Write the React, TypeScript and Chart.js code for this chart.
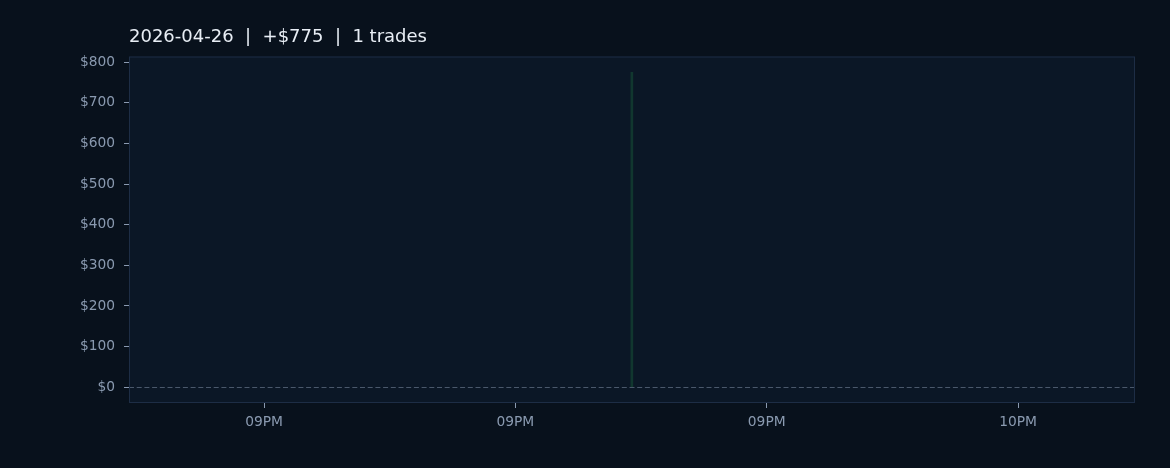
import React, { useEffect, useRef } from "react";
import { Chart, registerables } from "chart.js";

Chart.register(...registerables);

// Data (x in minutes after 21:00)
const tradeTimes: number[] = [36.95];
const tradePnl: number[] = [775];
const xTickValues: number[] = [15, 30, 45, 60];
const xTickLabels: string[] = ["09PM", "09PM", "09PM", "10PM"];
const yTickValues: number[] = [0, 100, 200, 300, 400, 500, 600, 700, 800];
const titleText = "2026-04-26  |  +$775  |  1 trades";

const FONT = "'DejaVu Sans', sans-serif";
const W = 1170;
const H = 468;

const decorPlugin = {
  id: "decor",
  beforeDraw(chart: any) {
    const { ctx, chartArea } = chart;
    ctx.save();
    ctx.fillStyle = "#08111c";
    ctx.fillRect(0, 0, chart.width, chart.height);
    ctx.fillStyle = "#0b1726";
    ctx.fillRect(chartArea.left, chartArea.top, chartArea.right - chartArea.left, chartArea.bottom - chartArea.top);
    // zero line
    const y0 = chart.scales.y.getPixelForValue(0);
    ctx.strokeStyle = "#4a586b";
    ctx.lineWidth = 1;
    ctx.setLineDash([5, 2.7]);
    ctx.beginPath();
    ctx.moveTo(chartArea.left, Math.round(y0) + 0.5);
    ctx.lineTo(chartArea.right, Math.round(y0) + 0.5);
    ctx.stroke();
    ctx.restore();
  },
  afterDraw(chart: any) {
    const { ctx, chartArea } = chart;
    ctx.save();
    ctx.strokeStyle = "#1d2d45";
    ctx.lineWidth = 1;
    ctx.strokeRect(chartArea.left + 0.5, chartArea.top + 0.5, chartArea.right - chartArea.left - 1, chartArea.bottom - chartArea.top - 1);
    ctx.fillStyle = "#e8eef5";
    ctx.font = `18px ${FONT}`;
    ctx.textBaseline = "alphabetic";
    ctx.textAlign = "left";
    ctx.fillText(titleText, chartArea.left, 42);
    ctx.restore();
  },
};

export default function App() {
  const ref = useRef<HTMLCanvasElement | null>(null);
  useEffect(() => {
    document.body.style.margin = "0";
    document.body.style.background = "#08111c";
    const canvas = ref.current!;
    const chart = new Chart(canvas, {
      type: "bar",
      data: {
        datasets: [
          {
            data: tradeTimes.map((t, i) => ({ x: t, y: tradePnl[i] })),
            backgroundColor: "#11372f",
            borderWidth: 0,
            barThickness: 2,
          },
        ],
      },
      options: {
        animation: false,
        responsive: false,
        maintainAspectRatio: false,
        devicePixelRatio: 1,
        layout: { padding: { top: 56.5, right: 35, bottom: 0, left: 0 } },
        plugins: { legend: { display: false }, tooltip: { enabled: false }, title: { display: false } },
        scales: {
          x: {
            type: "linear",
            min: 6.94,
            max: 66.98,
            offset: false,
            afterBuildTicks: (s: any) => {
              s.ticks = xTickValues.map((v) => ({ value: v }));
            },
            afterFit: (s: any) => {
              s.height = 65;
            },
            grid: { offset: false, drawOnChartArea: false, drawTicks: true, tickLength: 5, color: "#8a9ab0" },
            border: { display: false },
            ticks: {
              color: "#8a9ab0",
              font: { family: FONT, size: 13.8 },
              padding: 6,
              maxRotation: 0,
              autoSkip: false,
              callback: (v: any) => {
                const i = xTickValues.indexOf(Number(v));
                return i >= 0 ? xTickLabels[i] : "";
              },
            },
          },
          y: {
            type: "linear",
            min: -38.75,
            max: 813.75,
            afterBuildTicks: (s: any) => {
              s.ticks = yTickValues.map((v) => ({ value: v }));
            },
            afterFit: (s: any) => {
              s.width = 129;
            },
            grid: { drawOnChartArea: false, drawTicks: true, tickLength: 5, color: "#8a9ab0" },
            border: { display: false },
            ticks: {
              color: "#8a9ab0",
              font: { family: FONT, size: 13.8 },
              padding: 9,
              callback: (v: any) => `$${v}`,
            },
          },
        },
      },
      plugins: [decorPlugin],
    });
    return () => chart.destroy();
  }, []);
  return (
    <div style={{ width: W, height: H, background: "#08111c" }}>
      <canvas ref={ref} width={W} height={H} style={{ display: "block", width: W, height: H }} />
    </div>
  );
}
